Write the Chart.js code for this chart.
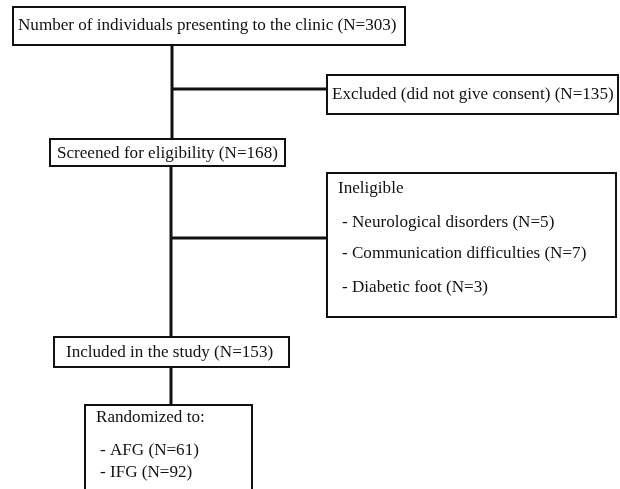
<!DOCTYPE html>
<html>
<head>
<meta charset="utf-8">
<script src="https://cdn.jsdelivr.net/npm/chart.js@4/dist/chart.umd.min.js"></script>
<style>
html,body{margin:0;padding:0;background:#fff;}
canvas{display:block;}
</style>
</head>
<body>
<canvas id="c" width="620" height="489"></canvas>
<script>
// ---- data ----
const stageLabels = [
  "Number of individuals presenting to the clinic",
  "Excluded (did not give consent)",
  "Screened for eligibility",
  "Ineligible",
  "Included in the study",
  "Randomized to:"
];
const stageCounts = [303, 135, 168, null, 153, null];
const ineligibleReasons = ["Neurological disorders", "Communication difficulties", "Diabetic foot"];
const ineligibleCounts = [5, 7, 3];
const groupLabels = ["AFG", "IFG"];
const groupCounts = [61, 92];

// ---- layout (scale units, y downward) ----
const boxes = [
  {x0: 13, y0: 7, x1: 405, y1: 45, tx: 18, ty: [25]},
  {x0: 327, y0: 75, x1: 618, y1: 114, tx: 332, ty: [94]},
  {x0: 50, y0: 139, x1: 285, y1: 166, tx: 57, ty: [153]},
  {x0: 327, y0: 173, x1: 616, y1: 317, tx: 338, ty: [188, 222, 253, 287], sub: 4},
  {x0: 54, y0: 337, x1: 289, y1: 367, tx: 66, ty: [352]},
  {x0: 85, y0: 405, x1: 252, y1: 520, tx: 96, ty: [417, 450, 472], sub: 4}
];
const connectors = [
  [[172, 45], [172, 139]],
  [[172, 89], [328, 89]],
  [[171, 166], [171, 337]],
  [[171, 238], [328, 238]],
  [[171, 367], [171, 405]]
];

function boxLines(i) {
  if (i === 3) return [stageLabels[3]].concat(ineligibleReasons.map((r, k) => "- " + r + " (N=" + ineligibleCounts[k] + ")"));
  if (i === 5) return [stageLabels[5]].concat(groupLabels.map((g, k) => "- " + g + " (N=" + groupCounts[k] + ")"));
  return [stageLabels[i] + " (N=" + stageCounts[i] + ")"];
}

const boxPlugin = {
  id: 'boxes',
  afterDatasetsDraw(chart) {
    const ctx = chart.ctx, xs = chart.scales.x, ys = chart.scales.y;
    ctx.save();
    boxes.forEach((b, i) => {
      const X0 = xs.getPixelForValue(b.x0), X1 = xs.getPixelForValue(b.x1);
      const Y0 = ys.getPixelForValue(b.y0), Y1 = ys.getPixelForValue(b.y1);
      ctx.fillStyle = '#fff';
      ctx.fillRect(X0, Y0, X1 - X0, Y1 - Y0);
      ctx.strokeStyle = '#111';
      ctx.lineWidth = 2;
      ctx.strokeRect(X0, Y0, X1 - X0, Y1 - Y0);
      ctx.fillStyle = '#111';
      ctx.font = '17.1px "Liberation Serif", "Times New Roman", serif';
      ctx.textBaseline = 'middle';
      ctx.textAlign = 'left';
      const lines = boxLines(i);
      lines.forEach((t, k) => {
        const tx = xs.getPixelForValue(b.tx + (k > 0 && b.sub ? b.sub : 0));
        const ty = ys.getPixelForValue(b.ty[k]);
        ctx.fillText(t, tx, ty);
      });
    });
    ctx.restore();
  }
};

new Chart(document.getElementById('c'), {
  type: 'scatter',
  data: {
    datasets: connectors.map(seg => ({
      data: seg.map(p => ({x: p[0], y: p[1]})),
      showLine: true,
      borderColor: '#111',
      borderWidth: 3,
      pointRadius: 0,
      tension: 0
    }))
  },
  options: {
    responsive: false,
    animation: false,
    devicePixelRatio: 1,
    layout: {padding: 0},
    plugins: {legend: {display: false}, tooltip: {enabled: false}},
    scales: {
      x: {type: 'linear', min: 0, max: 620, display: false},
      y: {type: 'linear', min: 0, max: 489, reverse: true, display: false}
    }
  },
  plugins: [boxPlugin]
});
</script>
</body>
</html>
